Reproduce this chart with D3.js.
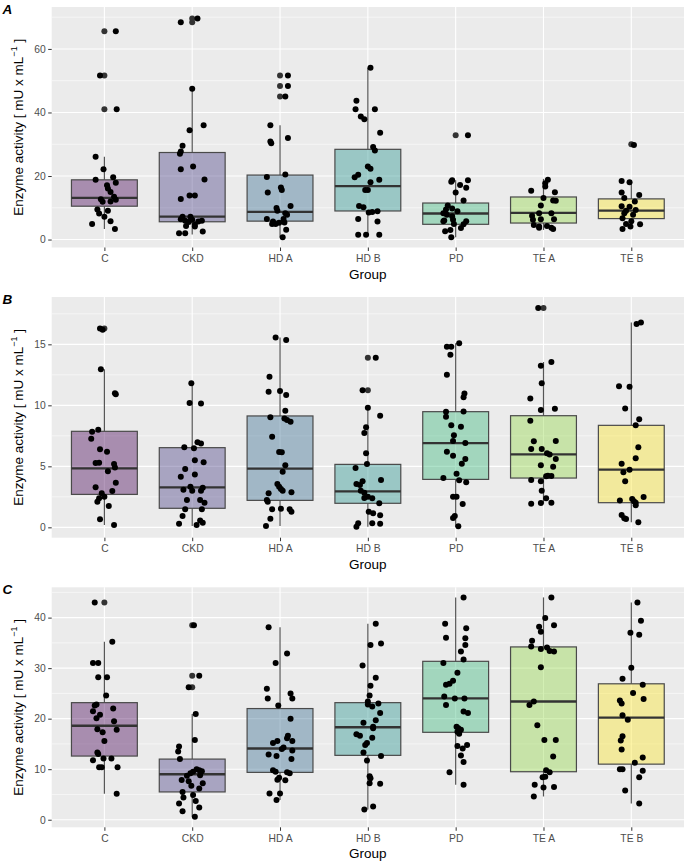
<!DOCTYPE html>
<html>
<head>
<meta charset="utf-8">
<script src="https://cdn.jsdelivr.net/npm/d3@7"></script>
<style>
  body { margin: 0; background: #fff; }
  svg { display: block; font-family: "Liberation Sans", Arial, Helvetica, sans-serif; }
</style>
</head>
<body>
<svg id="chart" width="685" height="863"></svg>
<script>
// ---------- DATA ----------
const groups = ["C", "CKD", "HD A", "HD B", "PD", "TE A", "TE B"];
const panelTags = ["A", "B", "C"];
const ticksA = [0, 20, 40, 60];
const ticksB = [0, 5, 10, 15];
const ticksC = [0, 10, 20, 30, 40];

// box stats per group: [lower whisker, Q1, median, Q3, upper whisker]
const boxA = [[3.3,10.5,13.1,18.8,26.1],[1.6,5.6,7.2,27.4,47.5],[0.7,5.8,8.7,20.3,36.0],[1.5,9.0,16.8,28.4,54.1],[0.7,4.8,8.2,11.5,18.7],[3.0,5.2,8.4,13.4,19.1],[3.3,6.6,9.1,12.8,18.4]];
const boxB = [[0.19,2.70,4.84,7.87,12.95],[0.11,1.56,3.28,6.53,11.8],[0.11,2.21,4.81,9.13,15.57],[0.05,1.97,2.95,5.16,9.8],[0.05,3.93,6.91,9.48,15.08],[1.94,4.04,5.98,9.15,13.55],[0.41,2.02,4.73,8.36,16.78]];
const boxC = [[5.15,12.6,18.6,23.17,35.2],[0.6,5.5,9.0,12.0,20.9],[3.9,9.37,14.1,22.0,38.1],[2.0,12.74,18.3,23.17,38.8],[6.9,17.3,24.0,31.35,44.0],[4.6,9.5,23.4,34.2,44.0],[3.2,11.0,20.2,26.9,43.0]];

// boxplot outliers (drawn at group centre)
const outA = [[65.6,51.6,41.0],[68.4,69.6],[51.6,48.3,45.0],[],[32.8],[],[30.0]];
const outB = [[16.3],[],[],[13.9,11.23],[],[17.98],[]];
const outC = [[43.0],[38.5,28.5,26.2],[],[],[],[],[]];

// jittered observations per group: values
const valA = [
 [65.6,51.6,41.0,26.1,22.1,18.8,19.6,17.9,17.1,16.1,15.0,13.5,12.7,12.5,11.9,12.0,9.5,9.1,8.2,7.2,5.8,4.9,3.3],
 [69.6,68.4,47.5,34.4,36.0,29.5,27.7,27.0,22.1,23.0,18.9,12.8,13.9,13.9,7.2,7.2,6.4,5.9,5.5,6.2,5.7,5.9,4.3,4.1,4.7,2.0,2.0,2.5],
 [51.6,48.3,45.0,36.0,30.9,30.3,32.0,19.7,20.5,16.4,15.6,14.8,10.6,9.9,9.1,6.5,5.7,8.3,7.8,6.5,4.9,4.9,5.3,5.4,3.1,0.7],
 [54.1,43.7,41.0,41.0,38.7,37.9,33.6,29.1,28.0,23.0,22.3,20.4,19.6,18.8,18.0,15.6,15.6,10.6,10.2,8.5,8.7,8.9,6.5,5.7,1.5,1.5,1.5],
 [32.8,18.7,18.2,18.7,17.2,16.3,14.8,12.3,10.7,9.5,9.8,8.9,8.3,7.8,7.3,5.8,6.2,5.8,4.8,3.6,4.9,2.6,3.0,0.7,6.0],
 [18.8,17.7,16.7,15.4,14.9,13.1,12.3,12.2,10.7,7.5,8.3,8.3,6.2,6.4,6.4,4.6,4.1,4.3,3.7,3.3,3.7],
 [29.8,18.4,18.0,14.8,14.0,13.1,12.0,10.3,10.5,9.3,9.1,8.3,7.8,6.7,5.8,4.8,4.9,3.3,4.1]
];
// horizontal jitter per observation, in fractions of the group spacing
const jitA = [
 [.13,-.05,.14,-.10,-.01,-.10,.10,.13,.03,.04,.07,.11,-.04,.13,-.02,.07,-.08,.04,-.06,0,.07,-.14,.12],
 [.06,-.13,0,-.03,.13,-.11,-.13,-.14,-.13,.01,.14,-.13,-.03,.03,-.11,-.02,-.13,-.08,-.04,0,.07,.11,-.07,.03,.03,-.15,-.08,.12],
 [.09,.09,.06,-.11,-.11,-.10,.09,-.15,.06,.01,.02,-.14,.12,-.04,-.03,-.15,-.08,.06,.08,.04,-.09,-.05,-.01,.05,.07,.03],
 [.03,-.13,-.14,.08,-.08,-.04,.14,.06,.08,0,.03,-.11,-.15,.13,.03,-.03,0,-.10,-.05,.01,.05,.11,-.11,.11,-.11,-.02,.13],
 [.14,-.04,-.05,.14,.05,.12,0,.09,-.09,-.11,-.04,.02,-.14,-.10,-.04,-.14,-.03,.12,.09,.06,-.02,-.12,-.06,-.05,-.13],
 [.05,.02,.02,-.14,.13,0,.11,.14,-.03,-.13,-.05,.09,-.12,-.03,.12,-.11,-.05,.04,.09,.11,-.05],
 [.03,-.11,-.02,-.11,.09,-.08,.04,-.02,-.11,.05,-.06,-.08,.02,-.10,0,.10,-.06,-.10,-.01]
];

const valB = [
 [16.3,16.2,12.95,10.9,11.0,7.84,8.0,7.27,6.39,6.2,5.27,5.3,5.2,4.9,4.6,3.66,3.28,2.98,2.79,2.51,2.38,2.1,1.75,0.66,0.19],
 [11.8,10.2,10.16,6.56,6.97,6.88,6.48,4.78,5.5,5.33,4.15,4.34,3.09,3.0,3.33,3.0,3.25,2.24,2.02,2.24,1.48,1.48,0.93,0.3,0.19,0.55,0.38],
 [15.57,15.35,12.35,11.12,11.17,10.85,9.56,9.02,8.93,8.8,8.66,7.43,6.17,6.15,5.08,4.56,3.55,3.33,3.14,3.0,2.87,2.79,2.24,2.1,1.53,1.48,1.28,1.48,0.71,0.11],
 [13.9,11.23,9.8,9.15,8.2,7.73,6.07,5.19,4.86,3.88,3.77,3.47,3.0,2.84,2.51,2.38,1.97,1.28,1.15,0.98,0.33,0.3,0.05,0.33,2.4,3.55],
 [15.08,14.8,14.8,14.15,12.5,10.98,10.66,9.48,9.5,9.07,8.36,8.25,7.54,7.08,6.91,6.2,5.87,5.6,5.22,4.4,4.04,3.85,3.69,2.51,2.51,1.91,0.93,0.77,0.08],
 [17.98,13.55,13.25,11.8,10.55,9.62,9.73,8.74,7.05,7.08,6.42,6.42,6.07,5.98,5.6,5.08,4.97,4.23,4.18,4.2,3.88,3.77,3.0,2.38,1.94,1.99,2.02],
 [16.67,16.78,11.56,11.53,9.75,8.85,8.36,6.56,5.66,5.22,4.73,4.51,3.77,2.19,2.32,2.13,1.8,2.49,1.01,0.74,0.68,0.41,2.02]
];
const jitB = [
 [-.05,-.02,-.04,.13,.12,-.14,-.07,-.15,-.05,.03,-.10,-.06,.11,.12,.04,.13,-.10,.09,-.03,0,-.06,-.08,.05,-.05,.11],
 [-.01,-.03,.10,-.09,.06,.10,.02,-.08,.03,.13,-.13,.03,-.10,0,-.02,.10,.12,.09,.14,-.06,-.08,.11,-.11,-.15,.05,.09,.12],
 [-.05,.07,-.12,-.13,0,.07,.06,-.11,.05,.08,.12,-.09,-.01,.02,.06,.03,-.03,-.01,.01,.03,.13,-.13,-.15,-.14,.01,.11,.13,-.09,-.11,-.16],
 [.09,-.06,0,.14,-.02,-.04,-.02,-.01,-.14,.15,-.06,-.09,-.08,-.04,0,.05,.13,.01,.06,.14,.05,.14,-.13,-.11,-.04,-.13],
 [.04,-.10,-.05,-.06,-.10,.10,.09,-.11,.09,-.11,-.05,.06,-.02,-.03,.11,-.10,-.03,.11,.07,.01,-.14,.04,.12,-.03,.01,.08,-.01,-.03,.03],
 [-.06,.09,-.03,-.02,-.15,-.03,.13,-.15,-.11,.14,-.14,-.02,.04,.07,.14,-.03,.11,.05,.03,.09,-.14,-.03,-.02,.03,-.14,-.03,.09],
 [.06,.11,-.14,-.02,-.07,.09,.05,.08,.05,-.11,-.02,-.09,-.07,-.13,.01,.03,.05,.14,-.11,-.08,-.06,.08,.05]
];

const valC = [
 [43.0,35.2,31.0,31.0,28.2,28.2,24.6,22.6,22.8,22.0,21.45,20.8,20.1,19.5,17.9,17.3,17.8,15.6,13.3,13.0,11.75,12.1,12.1,10.4,10.4,10.4,5.15],
 [38.5,28.5,26.2,20.9,15.8,14.5,13.5,12.0,10.0,9.8,9.6,9.5,9.2,8.8,8.7,7.85,7.6,7.2,6.7,6.2,5.5,4.9,4.4,3.7,3.2,2.4,1.7,0.6],
 [38.1,32.9,31.0,25.9,25.0,24.0,24.0,22.6,20.0,16.6,16.1,15.6,15.6,15.2,14.3,14.0,13.7,12.9,12.6,12.0,9.8,9.5,9.4,9.2,8.3,7.9,7.8,5.2,5.2,3.9],
 [38.8,34.6,34.9,30.5,28.1,26.5,24.6,23.4,22.8,23.0,22.4,21.1,19.7,19.2,18.4,18.1,16.9,16.6,16.2,15.2,14.8,13.3,12.6,11.7,8.6,8.2,7.2,7.1,2.0,2.6],
 [44.0,38.8,37.9,36.0,35.9,34.6,33.3,31.7,31.0,29.1,27.5,26.9,26.7,24.4,24.0,24.0,22.7,21.4,21.1,18.4,18.1,17.8,17.4,17.0,14.8,14.6,14.1,12.7,11.4,9.4,6.9],
 [44.0,39.9,38.5,38.2,37.2,35.4,34.3,33.8,34.1,33.4,33.3,30.2,23.4,22.7,18.7,15.8,15.8,12.5,9.8,9.4,8.5,8.4,6.9,6.4,6.5,4.6],
 [43.0,39.4,37.0,36.6,30.1,27.9,26.7,25.1,23.9,23.6,23.0,20.7,19.8,16.5,15.7,13.9,12.3,11.3,10.0,10.0,9.7,8.4,5.8,3.2]
];
const jitC = [
 [-.11,.09,-.13,-.07,-.07,.03,.02,-.11,-.09,.10,-.13,-.05,-.09,.11,-.08,-.02,.14,0,-.08,-.07,-.13,-.01,.08,-.06,-.03,.15,.14],
 [.02,.08,-.04,.04,.03,-.15,-.16,-.14,.05,.08,.11,.01,-.02,.09,-.06,-.12,-.04,.12,-.01,.08,-.11,.01,-.10,.04,-.15,.08,-.11,.03],
 [-.13,.08,-.05,-.15,.12,.14,-.14,-.02,.12,.09,.08,.14,-.03,-.08,.04,.02,.14,-.13,-.04,.13,-.08,-.05,.08,.11,-.01,-.03,.06,-.12,0,-.04],
 [.09,.03,.15,-.06,.09,.03,.02,0,0,.12,.05,.14,.09,-.05,.06,.06,-.13,-.09,.05,-.01,-.03,-.05,.15,-.01,.02,.03,.02,.14,-.04,.06],
 [.09,-.12,.12,-.11,.11,.11,.06,.09,-.14,.02,-.03,-.07,-.11,-.13,-.01,.10,-.11,.09,.14,.01,.03,.06,.02,.04,.13,.02,.08,.06,.09,-.07,.09],
 [.09,.02,.12,-.05,-.03,-.13,-.14,-.03,.04,.07,.12,-.03,-.11,-.16,-.07,.01,.14,.11,.03,.07,.02,-.01,-.10,0,.12,-.11],
 [.07,.11,-.01,.09,0,-.10,.13,.02,.14,-.13,-.11,-.10,-.04,-.10,-.12,-.11,.13,.04,-.13,-.10,.13,.09,-.07,.09]
];

// ---------- DRAWING ----------
const svg = d3.select("#chart");
const fill = d3.scaleOrdinal().domain(groups)
  .range(groups.map((g, i) => d3.interpolateViridis(i / (groups.length - 1))));

const panelLeft = 51.7, panelRight = 684;
const panels = [
  {tag: panelTags[0], top: 7,     bottom: 247.5, domain: [-2.5, 73.2],  ticks: ticksA, box: boxA, out: outA, val: valA, jit: jitA},
  {tag: panelTags[1], top: 297,   bottom: 537.7, domain: [-0.85, 18.88], ticks: ticksB, box: boxB, out: outB, val: valB, jit: jitB},
  {tag: panelTags[2], top: 587.3, bottom: 827.3, domain: [-1.5, 46.0],  ticks: ticksC, box: boxC, out: outC, val: valC, jit: jitC}
];

const x = d3.scalePoint().domain(groups).range([panelLeft, panelRight]).padding(0.6);
const step = x.step();
const boxW = step * 0.75;
const tickFont = 10.3, titleFont = 13.5, dotR = 3;

panels.forEach(p => {
  const y = d3.scaleLinear().domain(p.domain).range([p.bottom, p.top]);
  const g = svg.append("g");

  // background
  g.append("rect").attr("x", panelLeft).attr("y", p.top)
    .attr("width", panelRight - panelLeft).attr("height", p.bottom - p.top)
    .attr("fill", "#EBEBEB");

  // minor gridlines
  const tstep = p.ticks[1] - p.ticks[0];
  const minors = [];
  for (let v = p.ticks[0] + tstep / 2; v < p.domain[1]; v += tstep) minors.push(v);
  g.selectAll(".minor").data(minors).join("line")
    .attr("x1", panelLeft).attr("x2", panelRight)
    .attr("y1", d => y(d)).attr("y2", d => y(d))
    .attr("stroke", "#fff").attr("stroke-width", 0.55);
  // major gridlines
  g.selectAll(".major").data(p.ticks).join("line")
    .attr("x1", panelLeft).attr("x2", panelRight)
    .attr("y1", d => y(d)).attr("y2", d => y(d))
    .attr("stroke", "#fff").attr("stroke-width", 1.1);
  g.selectAll(".vmajor").data(groups).join("line")
    .attr("x1", d => x(d)).attr("x2", d => x(d))
    .attr("y1", p.top).attr("y2", p.bottom)
    .attr("stroke", "#fff").attr("stroke-width", 1.1);

  // y axis
  const yAxis = d3.axisLeft(y).tickValues(p.ticks).tickSize(3.5).tickPadding(2.5);
  const ya = g.append("g").attr("transform", `translate(${panelLeft},0)`).call(yAxis);
  ya.select(".domain").remove();
  ya.selectAll(".tick line").attr("stroke", "#333").attr("stroke-width", 1);
  ya.selectAll(".tick text").attr("fill", "#4D4D4D").attr("font-size", tickFont)
    .attr("font-family", "Liberation Sans, Arial, sans-serif");

  // x axis
  const xAxis = d3.axisBottom(x).tickSize(3.5).tickPadding(3.5);
  const xa = g.append("g").attr("transform", `translate(0,${p.bottom})`).call(xAxis);
  xa.select(".domain").remove();
  xa.selectAll(".tick line").attr("stroke", "#333").attr("stroke-width", 1);
  xa.selectAll(".tick text").attr("fill", "#4D4D4D").attr("font-size", tickFont)
    .attr("font-family", "Liberation Sans, Arial, sans-serif");

  // boxes
  groups.forEach((grp, i) => {
    const [lo, q1, med, q3, hi] = p.box[i];
    const cx = x(grp);
    const bg = g.append("g");
    bg.append("line").attr("x1", cx).attr("x2", cx).attr("y1", y(q3)).attr("y2", y(hi))
      .attr("stroke", "#555").attr("stroke-width", 1.2);
    bg.append("line").attr("x1", cx).attr("x2", cx).attr("y1", y(lo)).attr("y2", y(q1))
      .attr("stroke", "#555").attr("stroke-width", 1.2);
    bg.append("rect").attr("x", cx - boxW / 2).attr("y", y(q3))
      .attr("width", boxW).attr("height", y(q1) - y(q3))
      .attr("fill", fill(grp)).attr("fill-opacity", 0.4)
      .attr("stroke", "#4a4a4a").attr("stroke-width", 1.2);
    bg.append("line").attr("x1", cx - boxW / 2).attr("x2", cx + boxW / 2)
      .attr("y1", y(med)).attr("y2", y(med))
      .attr("stroke", "#333").attr("stroke-width", 2.3);
    // outliers
    bg.selectAll(".out").data(p.out[i]).join("circle")
      .attr("cx", cx).attr("cy", d => y(d)).attr("r", dotR).attr("fill", "#333");
  });

  // jittered points
  groups.forEach((grp, i) => {
    const pts = p.val[i].map((v, k) => ({v, j: p.jit[i][k] || 0}));
    g.selectAll(null).data(pts).join("circle")
      .attr("cx", d => x(grp) + d.j * step)
      .attr("cy", d => y(d.v))
      .attr("r", dotR).attr("fill", "#000");
  });

  // axis titles
  g.append("text").attr("x", (panelLeft + panelRight) / 2).attr("y", p.bottom + 31)
    .attr("text-anchor", "middle").attr("font-size", titleFont).attr("fill", "#000")
    .text("Group");

  const cy = (p.top + p.bottom) / 2;
  const yt = g.append("text").attr("transform", `translate(22.8,${cy}) rotate(-90)`)
    .attr("text-anchor", "middle").attr("font-size", titleFont).attr("fill", "#000");
  yt.append("tspan").text("Enzyme activity [ mU x mL");
  yt.append("tspan").attr("dy", -5.5).attr("font-size", 9).text("\u22121");
  yt.append("tspan").attr("dy", 5.5).text(" ]");

  // panel tag
  g.append("text").attr("x", 2.5).attr("y", p.top + 6.5)
    .attr("font-size", 13.5).attr("font-weight", "bold").attr("font-style", "italic")
    .attr("fill", "#000").text(p.tag);
});
</script>
</body>
</html>
